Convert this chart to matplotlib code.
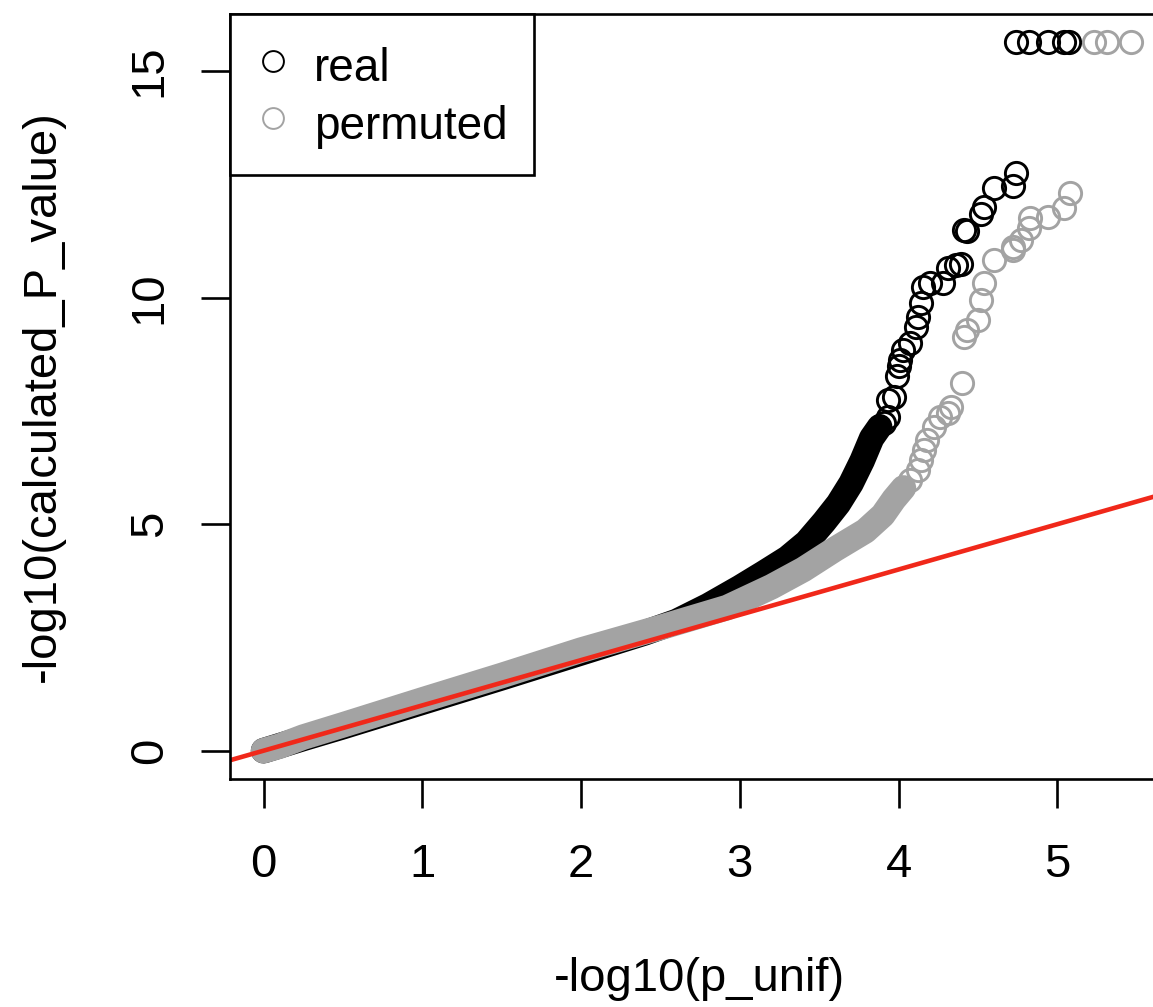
import matplotlib
matplotlib.use("Agg")
import matplotlib.pyplot as plt
from matplotlib.lines import Line2D

plt.rcParams['font.family'] = ['Liberation Sans', 'DejaVu Sans']

# dense part of each QQ curve (centres of the overlapping circles)
real_band_x = [0.0, 0.25, 0.5, 1.0, 1.5, 2.0, 2.4, 2.6, 2.8, 3.0, 3.15, 3.3, 3.42, 3.53,
               3.62, 3.70, 3.77, 3.83, 3.88]
real_band_y = [0.0, 0.27, 0.53, 1.07, 1.61, 2.16, 2.6, 2.85, 3.2, 3.6, 3.92, 4.25, 4.6, 5.05,
               5.45, 5.9, 6.4, 6.9, 7.15]
perm_band_x = [0.0, 0.1, 0.25, 0.5, 1.0, 1.5, 2.0, 2.5, 2.92, 3.2, 3.4, 3.6, 3.79, 3.9, 3.97, 4.03]
perm_band_y = [0.0, 0.1, 0.3, 0.57, 1.12, 1.66, 2.22, 2.72, 3.16, 3.62, 4.0, 4.45, 4.85, 5.2, 5.55, 5.8]

# sparse tail points
real_x = [3.91, 3.93, 3.93, 3.97, 3.99, 4.00, 4.01, 4.03, 4.07, 4.11, 4.12, 4.14, 4.15, 4.20,
          4.28, 4.31, 4.36, 4.39, 4.41, 4.43, 4.52, 4.54, 4.60, 4.72, 4.74,
          4.74, 4.82, 4.94, 5.04, 5.07]
real_y = [7.23, 7.37, 7.74, 7.81, 8.26, 8.48, 8.63, 8.85, 9.0, 9.36, 9.58, 9.88, 10.23, 10.32,
          10.32, 10.66, 10.72, 10.75, 11.5, 11.48, 11.85, 12.0, 12.43, 12.47, 12.74,
          15.65, 15.65, 15.65, 15.65, 15.65]
perm_x = [4.07, 4.12, 4.14, 4.16, 4.18, 4.22, 4.26, 4.31, 4.33, 4.40, 4.41, 4.43, 4.50, 4.52,
          4.54, 4.60, 4.72, 4.72, 4.77, 4.82, 4.83, 4.94, 5.04, 5.08,
          5.23, 5.31, 5.46]
perm_y = [5.98, 6.2, 6.42, 6.64, 6.86, 7.14, 7.37, 7.45, 7.58, 8.11, 9.13, 9.28, 9.5, 9.95,
          10.32, 10.83, 11.05, 11.12, 11.27, 11.53, 11.75, 11.78, 11.97, 12.31,
          15.65, 15.65, 15.65]

grey = '#a3a3a3'
red = '#f0281a'
ms = 16
mew = 2.1
band_lw = ms + mew + 0.3

fig = plt.figure(figsize=(11.53, 10.07), dpi=100)
ax = fig.add_axes([0.1995, 0.2264, 0.8135, 0.7597])

ax.plot(real_band_x, real_band_y, color='black', lw=band_lw,
        solid_capstyle='round', solid_joinstyle='round')
ax.plot(real_x, real_y, 'o', mfc='none', mec='black', ms=ms, mew=mew)
ax.plot(perm_band_x, perm_band_y, color=grey, lw=band_lw,
        solid_capstyle='round', solid_joinstyle='round')
ax.plot(perm_x, perm_y, 'o', mfc='none', mec=grey, ms=ms, mew=mew)
ax.axline((0, 0), slope=1, color=red, lw=3.3)

ax.set_xlim(-0.211, 5.696)
ax.set_ylim(-0.625, 16.26)
ax.set_xticks([0, 1, 2, 3, 4, 5])
ax.set_yticks([0, 5, 10, 15])
ax.tick_params(length=21, width=1.9, labelsize=34)
ax.tick_params(axis='x', pad=25)
ax.tick_params(axis='y', pad=21, labelrotation=90)
for lab in ax.get_yticklabels():
    lab.set_va('center')
for s in ax.spines.values():
    s.set_linewidth(1.9)

ax.set_xlabel('-log10(p_unif)', fontsize=34, va='center')
ax.xaxis.set_label_coords(0.5, -0.262)
ax.set_ylabel('-log10(calculated_P_value)', fontsize=34, va='center')
ax.yaxis.set_label_coords(-0.2, 0.5)

handles = [Line2D([], [], ls='none', marker='o', mfc='none', mec='black', ms=15, mew=1.4),
           Line2D([], [], ls='none', marker='o', mfc='none', mec=grey, ms=15, mew=1.4)]
leg = ax.legend(handles, ['real', 'permuted'], loc='upper left', bbox_to_anchor=(0, 1),
                borderaxespad=0, fancybox=False, edgecolor='black', framealpha=1,
                fontsize=33, handlelength=0.72, handleheight=1.29, handletextpad=0.52,
                borderpad=0.585, labelspacing=0.16)
leg.get_frame().set_linewidth(1.9)

fig.savefig('out.png', dpi=100)
